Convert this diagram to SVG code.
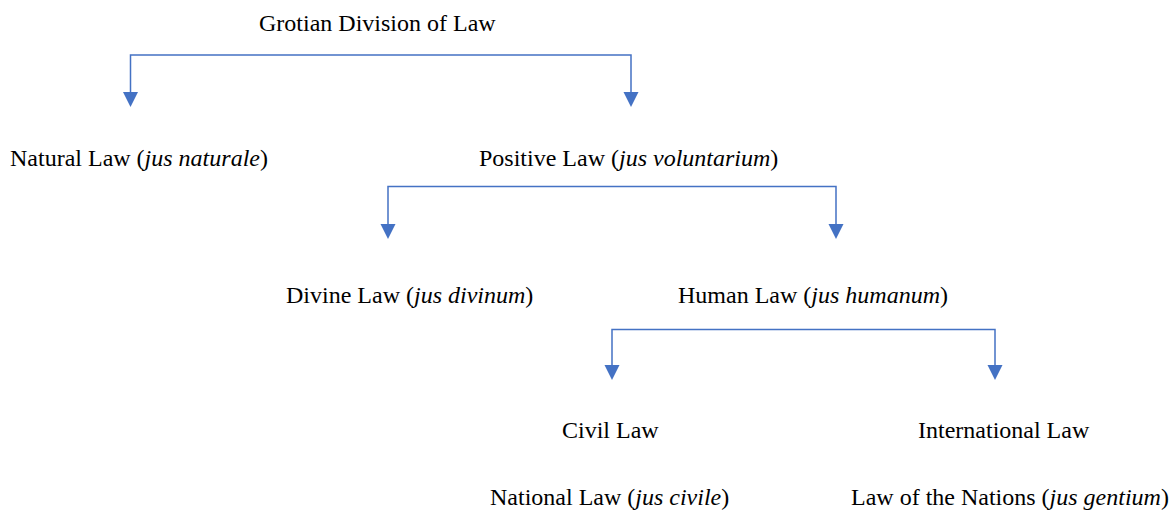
<svg xmlns="http://www.w3.org/2000/svg" width="1173" height="510" viewBox="0 0 1173 510">
<style>
  text { font-family: "Liberation Serif", "Times New Roman", serif; font-size: 24px; fill: #000; }
  .it { font-style: italic; }
  .conn { fill: none; stroke: #4472C4; stroke-width: 1.5; }
  .head { fill: #4472C4; }
</style>
<defs>
  <path id="ah" class="head" d="M-7.5,0 L7.5,0 L0,15 Z"/>
</defs>
<rect width="1173" height="510" fill="#fff"/>
<g id="connectors">
  <path class="conn" d="M130.5,92 V55 H631 V92"/>
  <use href="#ah" x="130.5" y="92"/>
  <use href="#ah" x="631" y="92"/>
  <path class="conn" d="M388,224 V186.5 H836 V224"/>
  <use href="#ah" x="388" y="224"/>
  <use href="#ah" x="836" y="224"/>
  <path class="conn" d="M612,365 V329.5 H995 V365"/>
  <use href="#ah" x="612" y="365"/>
  <use href="#ah" x="995" y="365"/>
</g>
<g id="n-grotian"><text x="259" y="31">Grotian Division of Law</text></g>
<g id="n-natural"><text x="10" y="166">Natural Law (<tspan class="it">jus naturale</tspan>)</text></g>
<g id="n-positive"><text x="479" y="166">Positive Law (<tspan class="it">jus voluntarium</tspan>)</text></g>
<g id="n-divine"><text x="286" y="303">Divine Law (<tspan class="it">jus divinum</tspan>)</text></g>
<g id="n-human"><text x="678" y="303">Human Law (<tspan class="it">jus humanum</tspan>)</text></g>
<g id="n-civil"><text x="562" y="438">Civil Law</text></g>
<g id="n-international"><text x="918" y="438">International Law</text></g>
<g id="n-national"><text x="490" y="505">National Law (<tspan class="it">jus civile</tspan>)</text></g>
<g id="n-nations"><text x="851" y="505">Law of the Nations (<tspan class="it">jus gentium</tspan>)</text></g>
</svg>
